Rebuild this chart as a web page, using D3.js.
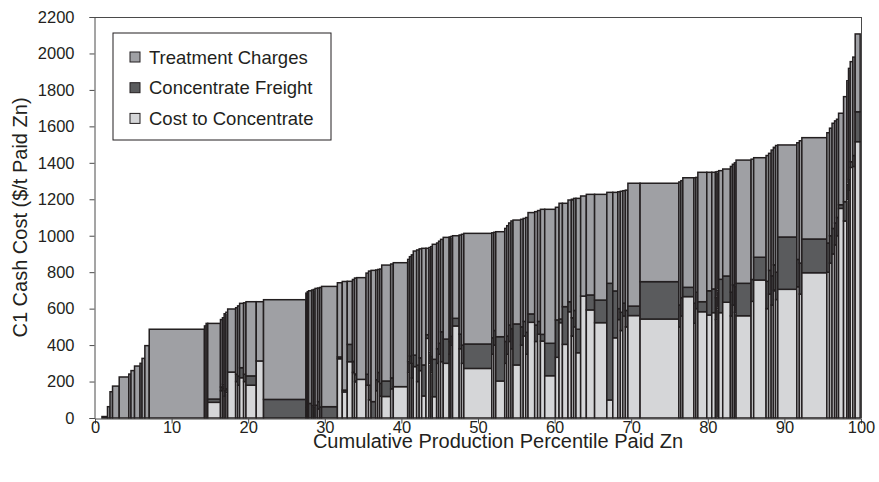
<!DOCTYPE html>
<html>
<head>
<meta charset="utf-8">
<script src="https://cdn.jsdelivr.net/npm/d3@7/dist/d3.min.js"></script>
<style>
  html, body { margin: 0; padding: 0; background: #fff; }
  svg { display: block; font-family: "Liberation Sans", Arial, Helvetica, sans-serif; }
</style>
</head>
<body>
<svg id="chart" width="879" height="482"></svg>
<script>
// Zinc mine C1 cash cost curve: each mine is a column whose width is its
// share of paid zinc production, stacked by cost component.

// share of paid Zn production (%) per mine, in cost order
const share = [
  0.91, 0.72, 0.33, 0.33, 0.87, 1.25, 0.29, 0.46, 0.72, 0.26, 0.37, 0.57, 7.21,
  0.22, 0.21, 1.66, 0.26, 0.22, 0.23, 0.23, 1.04, 0.26, 0.26, 0.52, 0.31, 1.34,
  0.95, 5.53, 0.18, 0.18, 0.39, 0.23, 0.22, 0.33, 0.26, 0.26, 2.06, 0.64, 0.65,
  0.68, 0.27, 0.29, 1.21, 0.33, 0.33, 0.61, 0.26, 0.26, 0.26, 1.17, 0.34, 1.88,
  0.23, 0.25, 0.25, 0.44, 0.33, 0.33, 0.56, 0.39, 0.22, 0.21, 0.57, 0.26, 0.26,
  0.34, 0.78, 0.22, 0.22, 0.86, 0.31, 0.30, 3.65, 0.26, 0.26, 1.17, 0.26, 0.26,
  0.29, 0.27, 1.00, 0.33, 0.33, 0.30, 0.87, 0.38, 0.37, 0.56, 1.40, 0.47, 0.44,
  0.73, 0.44, 0.30, 0.30, 0.61, 0.74, 1.08, 1.60, 0.78, 0.65, 0.33, 0.33, 0.33,
  0.33, 1.59, 5.06, 0.26, 0.26, 1.44, 0.26, 0.26, 1.17, 0.65, 0.48, 0.22, 0.21,
  0.52, 1.00, 0.26, 0.26, 0.22, 1.96, 0.34, 1.62, 0.33, 0.33, 0.29, 0.29, 0.29,
  2.48, 0.33, 0.33, 3.26, 0.35, 0.33, 0.33, 0.26, 0.26, 0.65, 0.43, 0.22, 0.22,
  0.34, 0.31, 0.65
];

// cost to concentrate ($/t paid Zn)
const costToConcentrate = [
  0, 0, 0, 0, 0, 0, 0, 0, 0, 0, 0, 0, 0,
  0, 0, 86, 150, 160, 120, 140, 252, 200, 180, 221, 200, 180,
  313, 0, 0, 0, 0, 0, 0, 0, 50, 0, 0, 325, 143,
  309, 250, 200, 212, 180, 100, 0, 150, 200, 120, 118, 160, 172,
  250, 300, 220, 282, 200, 260, 121, 437, 300, 250, 117, 300, 350,
  309, 300, 350, 400, 505, 380, 300, 272, 350, 400, 203, 300, 350,
  420, 380, 291, 400, 450, 350, 525, 420, 460, 422, 232, 333, 523,
  404, 583, 450, 500, 358, 669, 593, 523, 99, 440, 540, 480, 560,
  500, 562, 543, 500, 560, 666, 520, 600, 583, 565, 578, 540, 600,
  578, 635, 560, 620, 580, 561, 640, 757, 600, 680, 620, 700, 650,
  706, 720, 680, 797, 800, 850, 900, 950, 1000, 1150, 1081, 1200, 1250,
  1375, 1380, 1516
];

// concentrate freight ($/t paid Zn)
const concentrateFreight = [
  0, 0, 0, 0, 0, 0, 0, 0, 0, 0, 0, 0, 0,
  0, 0, 18, 20, 25, 30, 20, 0, 40, 50, 55, 40, 51,
  0, 102, 60, 50, 80, 70, 60, 70, 40, 60, 62, 10, 10,
  95, 60, 40, 0, 60, 80, 90, 60, 50, 70, 85, 60, 0,
  60, 40, 80, 63, 90, 70, 170, 20, 60, 90, 205, 80, 60,
  164, 133, 70, 50, 42, 80, 100, 134, 90, 80, 243, 120, 100,
  90, 110, 225, 100, 80, 120, 46, 90, 70, 37, 178, 205, 20,
  207, 55, 100, 90, 129, 0, 82, 124, 640, 257, 60, 100, 70,
  90, 52, 205, 120, 100, 51, 110, 90, 55, 133, 130, 120, 100,
  183, 144, 130, 110, 140, 178, 120, 125, 150, 130, 160, 140, 150,
  287, 150, 170, 185, 160, 150, 140, 120, 100, 20, 106, 80, 60,
  31, 60, 164
];

// treatment charges ($/t paid Zn)
const treatmentCharges = [
  0, 8, 62, 144, 175, 225, 241, 260, 285, 300, 327, 397, 487,
  505, 519, 415, 370, 365, 422, 420, 346, 365, 385, 353, 392, 407,
  325, 547, 625, 643, 618, 632, 645, 641, 623, 656, 660, 407, 596,
  346, 450, 528, 558, 555, 626, 720, 602, 565, 627, 636, 625, 680,
  560, 545, 595, 571, 632, 598, 640, 474, 575, 600, 631, 580, 560,
  507, 558, 573, 546, 453, 544, 608, 607, 576, 539, 576, 620, 605,
  560, 591, 570, 590, 565, 630, 556, 622, 608, 686, 735, 618, 635,
  567, 558, 650, 615, 718, 549, 552, 580, 499, 541, 641, 664, 617,
  660, 674, 540, 675, 642, 601, 688, 630, 710, 650, 640, 690, 652,
  596, 587, 690, 662, 680, 676, 660, 546, 690, 642, 690, 645, 695,
  505, 640, 671, 556, 605, 590, 577, 560, 539, 502, 576, 570, 608,
  549, 540, 427
];

const xTicks = [0, 10, 20, 30, 40, 50, 60, 70, 80, 90, 100];
const yTicks = [0, 200, 400, 600, 800, 1000, 1200, 1400, 1600, 1800, 2000, 2200];

const components = ["Cost to Concentrate", "Concentrate Freight", "Treatment Charges"];
const legendOrder = ["Treatment Charges", "Concentrate Freight", "Cost to Concentrate"];
const fills = {
  "Cost to Concentrate": "#d5d6d8",
  "Concentrate Freight": "#5a5b5d",
  "Treatment Charges": "#9fa0a4"
};

const svg = d3.select("#chart");
const margin = { left: 95, right: 18, top: 17, bottom: 64 };
const W = 879, H = 482;

const x = d3.scaleLinear().domain([0, 100]).range([margin.left, W - margin.right]);
const y = d3.scaleLinear().domain([0, 2200]).range([H - margin.bottom, margin.top]);

// build mine records with cumulative percentile extents
let cum = 0;
const mines = share.map((s, i) => {
  const m = {
    x0: cum, x1: cum + s,
    parts: [costToConcentrate[i], concentrateFreight[i], treatmentCharges[i]]
  };
  cum += s;
  return m;
});

// stacked segments
const segs = [];
mines.forEach(m => {
  let base = 0;
  m.parts.forEach((v, k) => {
    if (v > 0) segs.push({ x0: m.x0, x1: m.x1, y0: base, y1: base + v, key: components[k] });
    base += v;
  });
});

svg.append("g")
  .selectAll("rect")
  .data(segs)
  .join("rect")
  .attr("x", d => x(d.x0))
  .attr("width", d => x(d.x1) - x(d.x0))
  .attr("y", d => y(d.y1))
  .attr("height", d => y(d.y0) - y(d.y1))
  .attr("fill", d => fills[d.key])
  .attr("stroke", "#231f20")
  .attr("stroke-width", 1.5);

// plot frame (top and right)
const frame = svg.append("g").attr("stroke", "#4a4a4a").attr("stroke-width", 1).attr("fill", "none");
frame.append("line").attr("x1", x(0)).attr("x2", x(100)).attr("y1", y(2200) + 0.5).attr("y2", y(2200) + 0.5);
frame.append("line").attr("x1", x(100) + 0.5).attr("x2", x(100) + 0.5).attr("y1", y(2200)).attr("y2", y(0));

// axes
const xAxis = svg.append("g")
  .attr("transform", `translate(0,${y(0) + 0.5})`)
  .call(d3.axisBottom(x).tickValues(xTicks).tickSize(5).tickPadding(-2).tickFormat(d3.format("d")));
const yAxis = svg.append("g")
  .attr("transform", `translate(${x(0) - 0.5},0)`)
  .call(d3.axisLeft(y).tickValues(yTicks).tickSize(5).tickPadding(15).tickFormat(d3.format("d")));

[xAxis, yAxis].forEach(g => {
  g.select(".domain").attr("stroke", "#4a4a4a");
  g.selectAll(".tick line").attr("stroke", "#4a4a4a");
  g.selectAll("text").attr("fill", "#231f20").style("font-size", "16.5px")
    .style("font-family", "\"Liberation Sans\", Arial, sans-serif");
});

// axis titles
svg.append("text")
  .attr("x", 498)
  .attr("y", 448)
  .attr("text-anchor", "middle")
  .attr("fill", "#231f20")
  .style("font-size", "20px")
  .text("Cumulative Production Percentile Paid Zn");

svg.append("text")
  .attr("transform", `translate(27,${(y(0) + y(2200)) / 2}) rotate(-90)`)
  .attr("text-anchor", "middle")
  .attr("fill", "#231f20")
  .style("font-size", "20px")
  .text("C1 Cash Cost ($/t Paid Zn)");

// legend
const lg = svg.append("g").attr("transform", "translate(113,33)");
lg.append("rect")
  .attr("width", 218).attr("height", 107)
  .attr("fill", "#fff").attr("stroke", "#231f20").attr("stroke-width", 1);
legendOrder.forEach((k, i) => {
  const row = lg.append("g").attr("transform", `translate(17,${19 + i * 30.7})`);
  row.append("rect").attr("width", 10).attr("height", 10)
    .attr("fill", fills[k]).attr("stroke", "#231f20").attr("stroke-width", 1);
  row.append("text").attr("x", 19).attr("y", 11.5)
    .attr("fill", "#231f20").style("font-size", "18.5px").text(k);
});
</script>
</body>
</html>
